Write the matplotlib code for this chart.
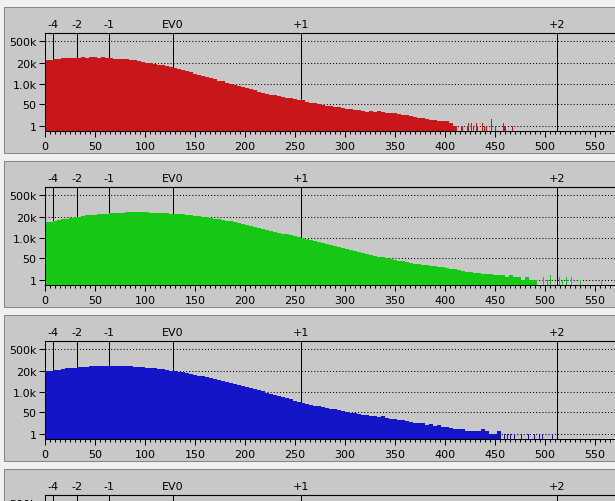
"""RGB histograms, log(1+n) count axis, EV marks on top"""

import numpy as np
import matplotlib
matplotlib.use('Agg')
import matplotlib.pyplot as plt
from matplotlib.patches import Rectangle
from matplotlib.ticker import MultipleLocator, NullLocator

W, H = 615, 502
BIN = 4  # bin width of the count lists below

EV_POS = [8, 32, 64, 128, 256, 512]
EV_LABELS = ['-4', '-2', '-1', 'EV0', '+1', '+2']
Y_TICKS = [1, 50, 1000, 20000, 500000]
Y_LABELS = ['1', '50', '1.0k', '20k', '500k']

# counts per 4-wide bin, starting at 0
red_counts = [31500, 33000, 36000, 38000, 42000, 42000, 42000, 43000, 44000, 46000,
              45000, 46000, 46000, 45000, 46000, 45000, 44000, 39000, 38000, 38000,
              35000, 33000, 30000, 28000, 25000, 21000, 20000, 17600, 16000, 14500,
              13000, 11500, 9400, 8200, 7200, 6100, 5300, 4200, 3600, 3100,
              2500, 2200, 1850, 1580, 1400, 1150, 980, 800, 690, 600,
              520, 430, 370, 315, 260, 225, 200, 180, 155, 136,
              125, 115, 100, 92, 85, 66, 62, 58, 52, 46,
              40, 35, 33, 31, 28, 25, 23, 21, 19, 18,
              16, 17, 15, 17, 14, 13, 12, 13, 11, 10,
              9, 8, 7, 6, 6, 5, 4, 4, 3, 3,
              3, 2, 1]
green_counts = [9400, 10000, 11000, 12500, 15000, 15500, 18800, 21000, 21300, 22000,
                26000, 27500, 28000, 31500, 31500, 33000, 36000, 36000, 36000, 37000,
                40000, 40000, 41000, 40000, 40000, 40000, 38000, 36000, 36000, 36000,
                35000, 31500, 31500, 31000, 30000, 26500, 26000, 22400, 22000, 20000,
                19500, 17600, 15500, 15000, 13700, 11500, 10800, 9400, 8400, 7200,
                6300, 5700, 5000, 4300, 3700, 3200, 2800, 2350, 2050, 1800,
                1650, 1500, 1250, 1080, 950, 800, 700, 600, 520, 450,
                390, 340, 300, 255, 220, 185, 160, 135, 118, 108,
                92, 82, 72, 62, 58, 50, 45, 40, 33, 31,
                27, 24, 22, 20, 18, 17, 15, 14, 13, 12,
                11, 10, 9, 8, 7, 6, 6, 5, 5, 4,
                4, 4, 3, 3, 3, 2, 3, 2, 2, 1,
                2, 1, 1]
blue_counts = [19000, 20000, 23000, 25000, 27500, 31500, 31500, 32000, 36000, 36000,
               38000, 42000, 42000, 42000, 42000, 42000, 42000, 42000, 42000, 42000,
               42000, 41000, 37000, 36000, 36000, 33000, 31500, 30000, 27500, 27000,
               24000, 21000, 20000, 18000, 16500, 15000, 13700, 12000, 10500, 9800,
               8500, 7000, 6500, 5700, 4800, 4300, 3700, 3100, 2700, 2300,
               1950, 1700, 1450, 1220, 1080, 880, 720, 600, 500, 440,
               370, 320, 270, 230, 195, 170, 145, 125, 115, 105,
               92, 82, 76, 68, 62, 52, 46, 42, 36, 32,
               30, 28, 27, 24, 26, 19, 18, 17, 15, 14,
               12, 11, 10, 9, 9, 7, 8, 6, 7, 5,
               5, 4, 3, 3, 3, 2, 2, 2, 2, 3,
               2, 1, 1, 2]

# single-value spikes (x=0 clip spike and sparse tail)
red_spike_x = [0, 256, 416, 417, 422, 423, 426, 428, 431, 432, 437, 439, 441, 446, 450, 458, 459, 460, 467]
red_spike_n = [1100000, 107, 1, 1, 1, 2, 2, 1, 2, 1, 2, 1, 1, 5, 1, 2, 1, 1, 1]
green_spike_x = [0, 498, 502, 505, 514, 517, 521, 526, 535, 556]
green_spike_n = [280000, 2, 1, 3, 2, 1, 2, 2, 1, 1]
blue_spike_x = [0, 459, 462, 465, 469, 476, 483, 489, 494, 497, 507]
blue_spike_n = [550000, 1, 1, 1, 1, 1, 1, 1, 1, 1, 1]

CHANNELS = [
    ('#c8161a', red_counts, red_spike_x, red_spike_n),
    ('#14c814', green_counts, green_spike_x, green_spike_n),
    ('#1414c8', blue_counts, blue_spike_x, blue_spike_n),
    None,  # 4th panel, only its top edge is on screen
]

PANEL_STEP = 154


def fwd(v):
    return np.log10(1 + np.clip(v, 0, None))


def inv(y):
    return 10 ** np.asarray(y) - 1


def px_box(x, y, w, h):
    return [x / W, 1 - (y + h) / H, w / W, h / H]


def setup_axes(ax, xlabels=True):
    ax.set_xlim(0, 575)
    ax.set_yscale('function', functions=(fwd, inv))
    ax.set_ylim(0, float(inv(6.19)))
    ax.set_facecolor('none')
    ax.set_yticks(Y_TICKS, Y_LABELS)
    ax.yaxis.set_minor_locator(NullLocator())
    ax.set_xticks(np.arange(0, 551, 50))
    ax.xaxis.set_minor_locator(MultipleLocator(5))
    ax.grid(axis='y', color='black', lw=0.75, ls=(0, (1, 2)))
    ax.set_axisbelow(True)
    for ev in EV_POS:
        ax.axvline(ev, color='black', lw=0.75, zorder=1)
    for s in ax.spines.values():
        s.set_linewidth(0.75)
    ax.tick_params(which='major', length=4, width=0.75, labelsize=8, pad=2)
    ax.tick_params(axis='x', pad=3, labelbottom=xlabels)
    ax.tick_params(which='minor', length=2.2, width=0.75)
    top = ax.secondary_xaxis('top')
    top.set_xticks(EV_POS, EV_LABELS)
    top.tick_params(length=0, labelsize=8, pad=3)


def main():
    fig = plt.figure(figsize=(W / 100, H / 100), dpi=100, facecolor='#f0f0f0')

    for i, ch in enumerate(CHANNELS):
        dy = i * PANEL_STEP
        fig.patches.append(Rectangle((4 / W, 1 - (8 + dy + 146) / H), 630 / W, 146 / H,
                                     transform=fig.transFigure, facecolor='#c8c8c8',
                                     edgecolor='#888888', lw=0.75, zorder=-1))
        ax = fig.add_axes(px_box(45, 34.3 + dy, 575, 97.7))
        setup_axes(ax, xlabels=ch is not None)
        if ch is None:
            continue
        color, counts, sx, sn = ch
        edges = np.arange(len(counts) + 1) * BIN
        ax.stairs(counts, edges, fill=True, color=color, lw=0, zorder=2)
        ax.bar(sx, sn, width=1, align='edge', color=color, lw=0, zorder=2)

    fig.savefig('out.png', dpi=100, facecolor=fig.get_facecolor())
    plt.close(fig)


if __name__ == '__main__':
    main()
